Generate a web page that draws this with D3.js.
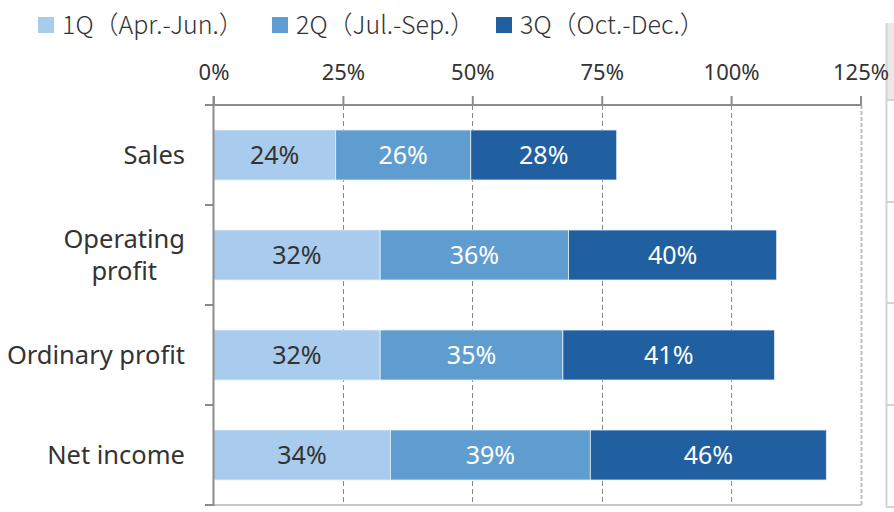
<!DOCTYPE html>
<html>
<head>
<meta charset="utf-8">
<script src="https://cdn.jsdelivr.net/npm/d3@7"></script>
<style>
  html, body { margin: 0; padding: 0; background: #fff; }
  svg { display: block; font-family: "Noto Sans", "Open Sans", sans-serif; }
</style>
</head>
<body>
<svg id="chart" width="894" height="512"></svg>
<script>
// ---- data ----
const categories = ["Sales", "Operating profit", "Ordinary profit", "Net income"];
const categoryLines = [["Sales"], ["Operating", "profit"], ["Ordinary profit"], ["Net income"]];
const seriesNames = ["1Q（Apr.-Jun.）", "2Q（Jul.-Sep.）", "3Q（Oct.-Dec.）"];
const q1 = [23.6, 32.2, 32.2, 34.2];
const q2 = [26.1, 36.4, 35.3, 38.6];
const q3 = [28.2, 40.2, 40.9, 45.6];
const tickValues = [0, 25, 50, 75, 100, 125];

const colors = ["#a9cbee", "#5f9dd1", "#2160a0"];
const labelColors = ["#333333", "#ffffff", "#ffffff"];

const svg = d3.select("#chart");

const x = d3.scaleLinear().domain([0, 125]).range([213.5, 860.5]);
const y = d3.scaleBand().domain(categories).range([105, 505]).paddingInner(0.5).paddingOuter(0.25);

// right-side panel (partially visible)
const panel = svg.append("g");
panel.append("rect").attr("x", 886).attr("y", 23).attr("width", 20).attr("height", 77).attr("fill", "#e9e9ec");
panel.append("line").attr("x1", 886.5).attr("x2", 886.5).attr("y1", 23).attr("y2", 507).attr("stroke", "#d4d4d4").attr("stroke-width", 2);
[100, 202, 303, 405, 507].forEach(v => {
  panel.append("line").attr("x1", 886).attr("x2", 894).attr("y1", v).attr("y2", v).attr("stroke", "#d4d4d4").attr("stroke-width", 2);
});

// grid lines
const grid = svg.append("g");
[25, 50, 75, 100].forEach(t => {
  grid.append("line").attr("x1", Math.round(x(t)) + 0.5).attr("x2", Math.round(x(t)) + 0.5)
    .attr("y1", 105).attr("y2", 505).attr("stroke", "#8a8a8a").attr("stroke-width", 1)
    .attr("stroke-dasharray", "5,3");
});
grid.append("line").attr("x1", Math.round(x(125)) + 0.5).attr("x2", Math.round(x(125)) + 0.5)
  .attr("y1", 105).attr("y2", 505).attr("stroke", "#bdbdbd").attr("stroke-width", 2)
  .attr("stroke-dasharray", "4,2");
grid.append("line").attr("x1", x(0)).attr("x2", x(125) + 1)
  .attr("y1", 505).attr("y2", 505).attr("stroke", "#c8c8c8").attr("stroke-width", 2);

// bars
const series = [q1, q2, q3];
const stacked = categories.map((c, i) => {
  let acc = 0;
  return series.map((s, k) => {
    const d = { cat: c, k, v: s[i], x0: acc, x1: acc + s[i] };
    acc += s[i];
    return d;
  });
}).flat();

svg.append("g").selectAll("rect").data(stacked).join("rect")
  .attr("x", d => x(d.x0))
  .attr("width", d => x(d.x1) - x(d.x0))
  .attr("y", d => y(d.cat))
  .attr("height", y.bandwidth())
  .attr("fill", d => colors[d.k])
  .attr("stroke", "#e6eef8").attr("stroke-width", 0.8);

svg.append("g").selectAll("text").data(stacked).join("text")
  .attr("x", d => (x(d.x0) + x(d.x1)) / 2)
  .attr("y", d => y(d.cat) + y.bandwidth() / 2)
  .attr("dy", "0.36em")
  .attr("text-anchor", "middle")
  .attr("font-size", 25)
  .attr("fill", d => labelColors[d.k])
  .text(d => Math.round(d.v) + "%");

// x axis (top)
const xAxis = d3.axisTop(x).tickValues(tickValues).tickSize(9).tickSizeOuter(0)
  .tickFormat(d => d + "%");
const gx = svg.append("g").attr("transform", "translate(0,105)").call(xAxis);
gx.select(".domain").attr("stroke", "#8c8c8c").attr("stroke-width", 2).attr("d", `M205,0H${x(125) + 1}`);
gx.selectAll(".tick line").attr("stroke", "#8c8c8c").attr("stroke-width", 2);
gx.selectAll(".tick text").attr("font-size", 22).attr("fill", "#333").attr("y", -25)
  .attr("font-family", "'Noto Sans', sans-serif");

// y axis (left)
const gy = svg.append("g");
const yMin = y.range()[0], step = y.step();
gy.append("line").attr("x1", x(0)).attr("x2", x(0)).attr("y1", 96).attr("y2", 506)
  .attr("stroke", "#8c8c8c").attr("stroke-width", 2);
d3.range(categories.length + 1).forEach(i => {
  const yy = yMin + i * step;
  gy.append("line").attr("x1", 205).attr("x2", x(0)).attr("y1", yy).attr("y2", yy)
    .attr("stroke", "#8c8c8c").attr("stroke-width", 2);
});

// category labels
const lineH = 32;
categories.forEach((c, i) => {
  const lines = categoryLines[i];
  const g = gy.append("g");
  const cy = y(c) + y.bandwidth() / 2;
  const texts = lines.map((ln, j) => g.append("text")
    .attr("y", cy + (j - (lines.length - 1) / 2) * lineH)
    .attr("dy", "0.36em")
    .attr("font-size", 25.5).attr("fill", "#333")
    .attr("text-anchor", "middle")
    .text(ln));
  const maxW = d3.max(texts, t => t.node().getComputedTextLength());
  texts.forEach(t => t.attr("x", 185 - maxW / 2));
});

// legend
const legendX = [38, 272, 496];
const lg = svg.append("g");
seriesNames.forEach((s, k) => {
  lg.append("rect").attr("x", legendX[k]).attr("y", 17).attr("width", 16).attr("height", 16).attr("fill", colors[k]);
  lg.append("text").attr("x", legendX[k] + 24).attr("y", 25).attr("dy", "0.36em")
    .attr("font-size", 25).attr("fill", "#333").attr("font-weight", 300)
    .attr("font-family", "'Noto Sans CJK JP', 'Noto Sans', sans-serif")
    .text(s);
});
</script>
</body>
</html>
